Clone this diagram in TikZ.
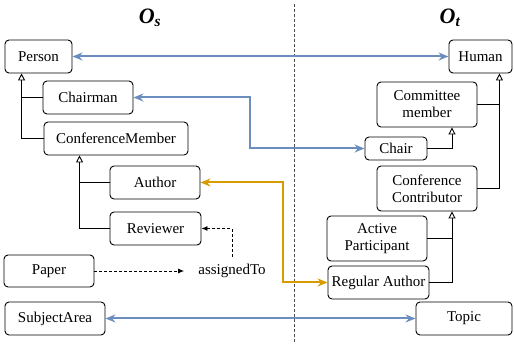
\documentclass[tikz,border=0pt]{standalone}
\usepackage{fontspec}
\setmainfont{Liberation Serif}
\usetikzlibrary{arrows.meta,positioning}
\definecolor{mapblue}{HTML}{6C8EBF}
\definecolor{maporange}{HTML}{D79B00}

\begin{document}
\begin{tikzpicture}[x=1pt, y=-1pt,
  cls/.style={rectangle, draw, line width=0.9pt, rounded corners=4pt, fill=white, inner sep=0pt, align=center, font=\fontsize{15}{17}\selectfont},
  title/.style={font=\fontsize{22}{24}\selectfont\bfseries\itshape},
  isa/.style={-{Triangle[open, length=7pt, width=7pt]}, line width=0.9pt},
  match/.style={{Stealth[length=10pt,width=8pt]}-{Stealth[length=10pt,width=8pt]}, line width=2pt, mapblue},
  ref/.style={-{Latex[length=6pt,width=5pt]}, line width=0.9pt, dash pattern=on 3pt off 2pt},
  sep/.style={line width=1pt, gray!60!black, dash pattern=on 3pt off 2pt}
]
  \useasboundingbox (0,0) rectangle (514,344);

  % ontology titles and separator
  \node[title] (os) at (150,18) {O\textsubscript{s}};
  \node[title] (ot) at (450,18) {O\textsubscript{t}};
  \draw[sep] (294,4) -- (294,344);

  % source ontology
  \node[cls, minimum width=67pt, minimum height=33pt] (person) at (38.5,56.5) {Person};
  \node[cls, minimum width=90pt, minimum height=33pt] (chairman) at (88,97.5) {Chairman};
  \node[cls, minimum width=144pt, minimum height=33pt] (confmember) at (116,138.5) {ConferenceMember};
  \node[cls, minimum width=90pt, minimum height=33pt] (author) at (155,182.5) {Author};
  \node[cls, minimum width=91pt, minimum height=33pt] (reviewer) at (155.5,228.5) {Reviewer};
  \node[cls, minimum width=90pt, minimum height=32pt] (paper) at (49,271) {Paper};
  \node[font=\fontsize{15}{17}\selectfont, inner sep=4pt] (assigned) at (232,271) {assignedTo};
  \node[cls, minimum width=100pt, minimum height=33pt] (subject) at (55,318.5) {SubjectArea};

  % target ontology
  \node[cls, minimum width=63pt, minimum height=33pt] (human) at (480.5,56.5) {Human};
  \node[cls, minimum width=100pt, minimum height=45pt] (committee) at (427,104.5) {Committee\\member};
  \node[cls, minimum width=62pt, minimum height=23pt] (chair) at (396,148.5) {Chair};
  \node[cls, minimum width=100pt, minimum height=45pt] (contrib) at (427,188.5) {Conference\\Contributor};
  \node[cls, minimum width=100pt, minimum height=45pt] (active) at (377,238.5) {Active\\Participant};
  \node[cls, minimum width=101pt, minimum height=33pt] (regauthor) at (378.5,282.5) {Regular Author};
  \node[cls, minimum width=96pt, minimum height=33pt] (topic) at (464,318.5) {Topic};

  % subclass links
  \coordinate (pj) at ([xshift=17pt]person.south west);
  \coordinate (mj) at ([xshift=36pt]confmember.south west);
  \coordinate (hj) at ([xshift=-13pt]human.south east);
  \coordinate (kj) at ([xshift=25pt]committee.south);
  \coordinate (cj) at ([xshift=25pt]contrib.south);
  \draw[isa] (confmember.west) -| (pj);
  \draw[line width=0.9pt] (chairman.west) -- (chairman.west -| pj);
  \draw[isa] (reviewer.west) -| (mj);
  \draw[line width=0.9pt] (author.west) -- (author.west -| mj);
  \draw[isa] (contrib.east) -| (hj);
  \draw[line width=0.9pt] (committee.east) -- (committee.east -| hj);
  \draw[isa] (chair.east) -| (kj);
  \draw[isa] (regauthor.east) -| (cj);
  \draw[line width=0.9pt] (active.east) -- (active.east -| cj);

  % correspondences
  \draw[match] (person) -- (human);
  \draw[match] (chairman.east) -- ++(117,0) |- (chair.west);
  \draw[match, maporange] (author.east) -- ++(83,0) |- (regauthor.west);
  \draw[match] (subject) -- (topic);

  % object property
  \draw[ref, shorten >=10pt] (paper) -- (assigned);
  \draw[ref, shorten <=3pt] (assigned.north) |- (reviewer.east);
\end{tikzpicture}
\end{document}
